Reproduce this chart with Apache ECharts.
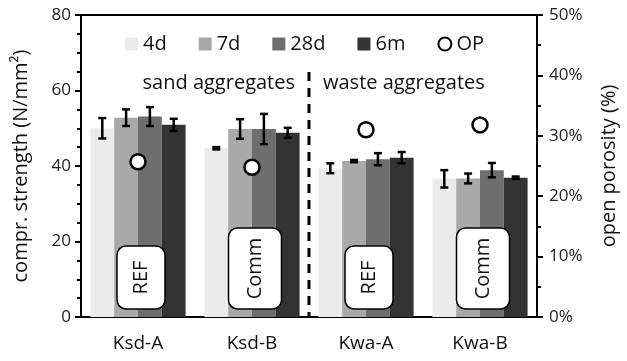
<!DOCTYPE html>
<html><head><meta charset="utf-8">
<script src="https://cdn.jsdelivr.net/npm/echarts@6/dist/echarts.min.js"></script>
<style>html,body{margin:0;padding:0;background:#fff}#c{width:627px;height:361px}</style>
</head><body><div id="c"></div>
<script>
const categories = ['Ksd-A', 'Ksd-B', 'Kwa-A', 'Kwa-B'];
const seriesNames = ['4d', '7d', '28d', '6m'];
const s4d = [50.0, 44.7, 39.4, 36.6];
const e4d = [2.7, 0.3, 1.3, 2.3];
const s7d = [52.8, 49.8, 41.3, 36.7];
const e7d = [2.2, 2.6, 0.3, 1.3];
const s28d = [53.1, 49.8, 41.8, 38.9];
const e28d = [2.5, 4.0, 1.6, 1.9];
const s6m = [50.9, 48.8, 42.2, 36.9];
const e6m = [1.6, 1.3, 1.5, 0.3];
const op = [25.7, 24.8, 31.0, 31.8];
const boxLabels = ['REF', 'Comm', 'REF', 'Comm'];
const groupLabels = ['sand aggregates', 'waste aggregates'];
const leftTicks = [0, 20, 40, 60, 80];
const rightTicks = [0, 10, 20, 30, 40, 50];

const FONT = 'Open Sans';
const colors = ['#ebebeb', '#a9a9a9', '#6e6e6e', '#333333'];
const values = [s4d, s7d, s28d, s6m];
const errs = [e4d, e7d, e28d, e6m];
const CAT_GAP = 0.165;

const chart = echarts.init(document.getElementById('c'), null, {renderer: 'canvas'});

const series = [];
values.forEach((vals, k) => {
  series.push({
    name: seriesNames[k], type: 'bar', data: vals, barGap: '0%', barCategoryGap: (CAT_GAP * 100) + '%',
    itemStyle: {color: colors[k]}, z: 2
  });
});
values.forEach((vals, k) => {
  series.push({
    type: 'custom', z: 5, silent: true,
    data: vals.map((v, i) => [i, v, errs[k][i]]),
    encode: {x: 0, y: 1},
    renderItem: function (params, api) {
      const c = api.value(0), v = api.value(1), e = api.value(2);
      const band = api.size([1, 0])[0];
      const bw = band * (1 - CAT_GAP) / 4;
      const x = api.coord([c, v])[0] + (k - 1.5) * bw;
      const yT = api.coord([c, v + e])[1];
      const yB = api.coord([c, v - e])[1];
      const hw = 4;
      const st = {stroke: '#000', lineWidth: 2.5};
      return {type: 'group', children: [
        {type: 'line', shape: {x1: x, y1: yT, x2: x, y2: yB}, style: st},
        {type: 'line', shape: {x1: x - hw, y1: yT, x2: x + hw, y2: yT}, style: st},
        {type: 'line', shape: {x1: x - hw, y1: yB, x2: x + hw, y2: yB}, style: st}
      ]};
    }
  });
});
series.push({
  name: 'OP', type: 'scatter', yAxisIndex: 1, data: op, symbol: 'circle', symbolSize: 15, z: 10,
  itemStyle: {color: '#fff', borderColor: '#000', borderWidth: 2.5, opacity: 1}
});

const option = {
  animation: false,
  textStyle: {fontFamily: FONT},
  grid: {left: 81, right: 86, top: 15, bottom: 44, show: true, borderColor: '#000', borderWidth: 2, backgroundColor: 'transparent'},
  legend: {
    data: [
      {name: '4d', icon: 'rect'}, {name: '7d', icon: 'rect'}, {name: '28d', icon: 'rect'}, {name: '6m', icon: 'rect'},
      {name: 'OP', icon: 'circle'}
    ],
    left: 120, top: 29, itemWidth: 13, itemHeight: 13, itemGap: 32,
    textStyle: {fontSize: 20, color: '#111', fontFamily: FONT}
  },
  xAxis: {
    type: 'category', data: categories,
    axisLine: {lineStyle: {color: '#000', width: 2}},
    axisTick: {show: false},
    axisLabel: {fontSize: 19, color: '#111', margin: 17, fontFamily: FONT}
  },
  yAxis: [
    {
      type: 'value', min: 0, max: 80, interval: 20,
      name: 'compr. strength (N/mm²)', nameLocation: 'middle', nameGap: 50, nameRotate: 90,
      nameTextStyle: {fontSize: 20, color: '#111', fontFamily: FONT},
      axisLine: {show: true, lineStyle: {color: '#000', width: 2}},
      axisTick: {show: true, length: 6, lineStyle: {color: '#000', width: 2}},
      minorTick: {show: true, splitNumber: 4, length: 4, lineStyle: {color: '#000', width: 2}},
      splitLine: {show: false},
      axisLabel: {fontSize: 17, color: '#222', margin: 10, fontFamily: FONT,
        formatter: v => leftTicks.includes(v) ? String(v) : ''}
    },
    {
      type: 'value', min: 0, max: 50, interval: 10, position: 'right',
      name: 'open porosity (%)', nameLocation: 'middle', nameGap: 62, nameRotate: 90,
      nameTextStyle: {fontSize: 20, color: '#111', fontFamily: FONT},
      axisLine: {show: true, lineStyle: {color: '#000', width: 2}},
      axisTick: {show: true, length: 6, lineStyle: {color: '#000', width: 2}},
      minorTick: {show: true, splitNumber: 2, length: 4, lineStyle: {color: '#000', width: 2}},
      splitLine: {show: false},
      axisLabel: {fontSize: 17, color: '#222', margin: 12, fontFamily: FONT,
        formatter: v => rightTicks.includes(v) ? v + '%' : ''}
    }
  ],
  series: series
};
chart.setOption(option);

// annotations positioned from the axes
const cx = i => chart.convertToPixel({xAxisIndex: 0}, i);
const py = v => chart.convertToPixel({yAxisIndex: 0}, v);
const y0 = py(0);
const midX = (cx(1) + cx(2)) / 2;
const graphics = [];
graphics.push({type: 'line', z: 20, shape: {x1: midX, y1: 72, x2: midX, y2: y0 - 1},
  style: {stroke: '#000', lineWidth: 3, lineDash: [9, 7]}});
graphics.push({type: 'text', z: 20, x: midX - 14, y: 83,
  style: {text: groupLabels[0], font: '20px "' + FONT + '"', fill: '#111', align: 'right', verticalAlign: 'middle'}});
graphics.push({type: 'text', z: 20, x: midX + 14, y: 83,
  style: {text: groupLabels[1], font: '20px "' + FONT + '"', fill: '#111', align: 'left', verticalAlign: 'middle'}});
boxLabels.forEach((lab, i) => {
  const x = cx(i) + 3;
  const h = lab === 'REF' ? 63 : 81;
  const w = lab === 'REF' ? 48 : 53;
  const bottom = y0 - 8;
  graphics.push({type: 'rect', z: 20, shape: {x: x - w / 2, y: bottom - h, width: w, height: h, r: 9},
    style: {fill: '#fff', stroke: '#000', lineWidth: 1.5}});
  graphics.push({type: 'text', z: 21, x: x, y: bottom - h / 2, rotation: Math.PI / 2,
    style: {text: lab, font: '20px "' + FONT + '"', fill: '#111', align: 'center', verticalAlign: 'middle'}});
});
chart.setOption({graphic: graphics});
</script></body></html>
